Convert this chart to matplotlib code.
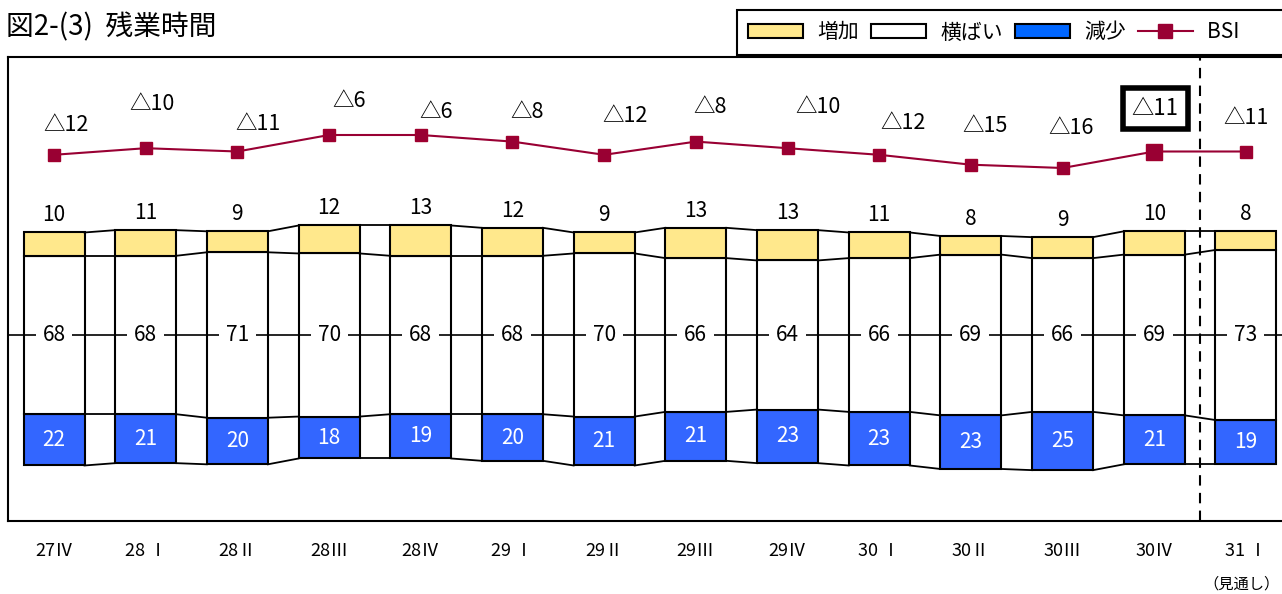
import matplotlib
matplotlib.use("Agg")
import matplotlib.pyplot as plt
from matplotlib.patches import Patch
from matplotlib.lines import Line2D
import numpy as np

plt.rcParams["font.family"] = ["Noto Sans CJK JP", "DejaVu Sans"]

CATEGORIES = ["27Ⅳ", "28 Ⅰ", "28Ⅱ", "28Ⅲ", "28Ⅳ", "29 Ⅰ", "29Ⅱ", "29Ⅲ", "29Ⅳ",
              "30 Ⅰ", "30Ⅱ", "30Ⅲ", "30Ⅳ", "31 Ⅰ"]
INCREASE = [10, 11, 9, 12, 13, 12, 9, 13, 13, 11, 8, 9, 10, 8]
FLAT = [68, 68, 71, 70, 68, 68, 70, 66, 64, 66, 69, 66, 69, 73]
DECREASE = [22, 21, 20, 18, 19, 20, 21, 21, 23, 23, 23, 25, 21, 19]
BSI = [-12, -10, -11, -6, -6, -8, -12, -8, -10, -12, -15, -16, -11, -11]

YELLOW = "#FFE88C"
BLUE = "#3366FF"
LEGEND_BLUE = "#0066FF"
RED = "#990033"

# label placement in pixels (x, y above marker)
BSI_DX = [12, 6, 21, 20, 15, 15, 21, 14, 30, 24, 14, 8, 1, 0]
BSI_DY = [30, 44, 27, 34, 23, 30, 39, 35, 41, 32, 39, 40, 43, 34]

W, H = 1282, 594
fig = plt.figure(figsize=(W / 100, H / 100), dpi=100)
ax = fig.add_axes([8 / W, (H - 521) / H, (W - 8) / W, (521 - 57) / H])

px = 91.69
ax.set_xlim(-46 / px, 13 + 36 / px)
ax.set_ylim(-(521 - 335) / 2.33, (335 - 57) / 2.33)

inc = np.array(INCREASE, float)
flat = np.array(FLAT, float)
dec = np.array(DECREASE, float)
x = np.arange(len(CATEGORIES))
bw = 61 / px

ax.bar(x, dec, bw, bottom=-flat / 2 - dec, color=BLUE, edgecolor="black", linewidth=1.5, zorder=2)
ax.bar(x, flat, bw, bottom=-flat / 2, color="white", edgecolor="black", linewidth=1.5, zorder=2)
ax.bar(x, inc, bw, bottom=flat / 2, color=YELLOW, edgecolor="black", linewidth=1.5, zorder=2)

# series lines between bars
for b in (flat / 2 + inc, flat / 2, -flat / 2, -flat / 2 - dec):
    for i in range(len(x) - 1):
        ax.plot([x[i] + bw / 2, x[i + 1] - bw / 2], [b[i], b[i + 1]], color="black", lw=1.3, zorder=2)

ax.axhline(0, color="black", lw=1.2, zorder=3)

for i in x:
    ax.annotate(str(INCREASE[i]), (x[i], flat[i] / 2 + inc[i]), xytext=(0, 6), textcoords="offset pixels",
                ha="center", va="bottom", fontsize=15, zorder=5)
    ax.text(x[i], 0, str(FLAT[i]), ha="center", va="center", fontsize=15, zorder=5,
            bbox=dict(facecolor="white", edgecolor="none", pad=5))
    ax.text(x[i], -flat[i] / 2 - dec[i] / 2, str(DECREASE[i]), ha="center", va="center",
            fontsize=15, color="white", zorder=5)

ax2 = ax.twinx()
ax2.set_ylim(-6 - (521 - 135) / 3.3, -6 + (135 - 57) / 3.3)
ax2.axis("off")
ax2.plot(x, BSI, color=RED, lw=1.5, marker="s", markersize=8.5, markerfacecolor=RED,
         markeredgecolor="#A0002E", zorder=4)
ax2.plot(x[12], BSI[12], marker="s", markersize=11, color=RED, markeredgecolor="#A0002E", zorder=5)
for i in x:
    lab = "△" + str(-BSI[i])
    if i == 12:
        ax2.annotate(lab, (x[i], BSI[i]), xytext=(BSI_DX[i], BSI_DY[i]), textcoords="offset pixels",
                     ha="center", va="center", fontsize=16,
                     bbox=dict(boxstyle="square,pad=0.4", facecolor="white", edgecolor="black", linewidth=4))
    else:
        ax2.annotate(lab, (x[i], BSI[i]), xytext=(BSI_DX[i], BSI_DY[i]), textcoords="offset pixels",
                     ha="center", va="center", fontsize=15.5)

ax.axvline(12 + 46 / px, color="black", lw=1.5, linestyle=(0, (5, 3.5)), zorder=6)

ax.set_xticks(x)
ax.set_xticklabels(CATEGORIES, fontsize=13)
ax.tick_params(axis="x", length=0, pad=15)
ax.set_yticks([])
for s in ("left", "top", "bottom"):
    ax.spines[s].set_linewidth(1.5)
ax.spines["right"].set_visible(False)
for s in ax2.spines.values():
    s.set_visible(False)

fig.text(1241 / W, 1 - 584 / H, "（見通し）", ha="center", va="center", fontsize=11)
fig.text(6 / W, 1 - 27 / H, "図2-(3)  残業時間", ha="left", va="center", fontsize=20)

handles = [Patch(facecolor=YELLOW, edgecolor="black", linewidth=1.5),
           Patch(facecolor="white", edgecolor="black", linewidth=1.5),
           Patch(facecolor=LEGEND_BLUE, edgecolor="black", linewidth=1.5),
           Line2D([], [], color=RED, lw=1.5, marker="s", markersize=10, markerfacecolor=RED)]
leg = fig.legend(handles, ["増加", "横ばい", "減少", "BSI         "], loc="upper left",
                 bbox_to_anchor=(737 / W, 1 - 10 / H), ncol=4, fontsize=15, frameon=True,
                 fancybox=False, edgecolor="black", framealpha=1, borderaxespad=0,
                 handlelength=2.6, handletextpad=0.7, columnspacing=0.6, borderpad=0.55)
leg.get_frame().set_linewidth(1.5)

fig.savefig("out.png", dpi=100)
